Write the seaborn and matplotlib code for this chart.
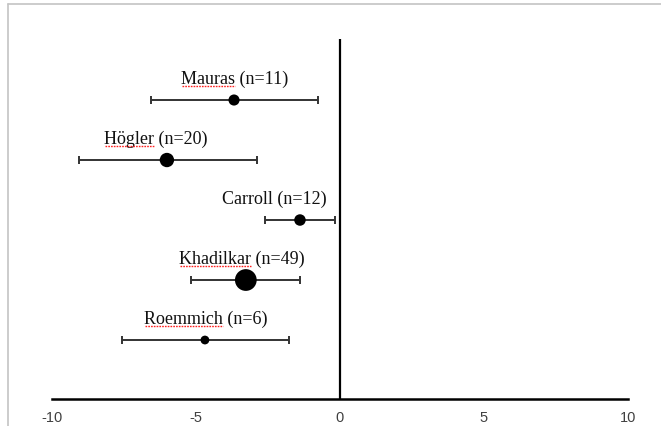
import matplotlib
matplotlib.use("Agg")
import matplotlib.pyplot as plt
import seaborn as sns
import pandas as pd
from matplotlib.lines import Line2D

studies = ["Mauras", "Högler", "Carroll", "Khadilkar", "Roemmich"]
n_sizes = [11, 20, 12, 49, 6]
effect = [-3.68, -6.01, -1.39, -3.27, -4.69]
ci_low = [-6.56, -9.06, -2.59, -5.18, -7.58]
ci_high = [-0.77, -2.88, -0.16, -1.39, -1.78]
label_x = [-3.66, -6.39, -2.29, -3.42, -4.65]
underlined = [True, True, False, True, True]
xticks = [-10, -5, 0, 5, 10]

df = pd.DataFrame({
    "study": studies,
    "n": n_sizes,
    "effect": effect,
    "lo": ci_low,
    "hi": ci_high,
    "row": list(range(len(studies))),
    "lx": label_x,
})

sns.set_theme(style="white")
plt.rcParams["font.family"] = ["Liberation Sans", "DejaVu Sans"]

W, H = 661, 427
fig = plt.figure(figsize=(W / 100, H / 100), dpi=100)
# axes from x=52..628 px, y=40..400 px (top-down)
ax = fig.add_axes([52 / W, (H - 400) / H, (628 - 52) / W, (400 - 40) / H])

ax.errorbar(df["effect"], df["row"],
            xerr=[df["effect"] - df["lo"], df["hi"] - df["effect"]],
            fmt="none", ecolor="#333333", elinewidth=1.4, capsize=3,
            capthick=1.4, zorder=2)

sns.scatterplot(data=df, x="effect", y="row", size="n", sizes=(40, 245),
                size_norm=(6, 49), color="black", edgecolor="black",
                linewidth=0, legend=False, ax=ax, zorder=3)

ax.axvline(0, color="black", lw=1.6, zorder=1)

ax.set_xlim(-10, 10)
ax.set_ylim(4.983, -1.017)
ax.set_xticks(xticks)
ax.set_xticklabels([str(t) for t in xticks])
ax.set_yticks([])
ax.set_xlabel("")
ax.set_ylabel("")
for s in ["top", "right", "left"]:
    ax.spines[s].set_visible(False)
ax.spines["bottom"].set_color("black")
ax.spines["bottom"].set_linewidth(1.8)
ax.tick_params(axis="x", length=0, pad=8, labelsize=10.5, labelcolor="#404040")
ax.patch.set_alpha(0)

serif = ["Liberation Serif", "DejaVu Serif"]
texts = []
for _, r in df.iterrows():
    t = ax.text(r["lx"], r["row"] - 0.36, f"{r['study']} (n={r['n']})",
                ha="center", va="center", fontsize=13,
                family=serif, color="#111111")
    texts.append(t)

# red spell-check style underlines beneath the names
fig.canvas.draw()
renderer = fig.canvas.get_renderer()
for t, name, ul in zip(texts, studies, underlined):
    if not ul:
        continue
    bb = t.get_window_extent(renderer)
    probe = fig.text(0, 0, name, fontsize=13, family=serif)
    nw = probe.get_window_extent(renderer).width
    probe.remove()
    y = bb.y0 + 1.5
    fig.add_artist(Line2D([(bb.x0 + 1) / W, (bb.x0 + nw) / W], [y / H, y / H],
                          transform=fig.transFigure, color="#ff2020", lw=1.0,
                          linestyle=(0, (1.2, 0.8)), zorder=5))

fig.add_artist(Line2D([8 / W, 8 / W], [0, 1 - 5 / H], transform=fig.transFigure,
                      color="#c4c4c4", lw=1.2))
fig.add_artist(Line2D([8 / W, 1], [1 - 5 / H, 1 - 5 / H], transform=fig.transFigure,
                      color="#c4c4c4", lw=1.2))

fig.savefig("out.png", dpi=100)
